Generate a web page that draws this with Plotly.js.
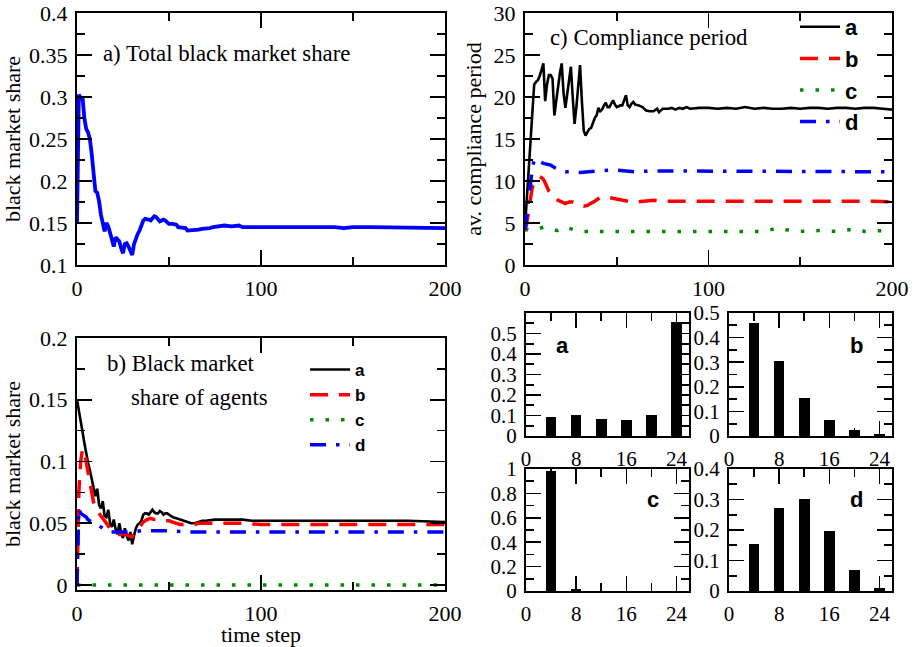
<!DOCTYPE html>
<html><head><meta charset="utf-8">
<script src="https://cdn.plot.ly/plotly-3.0.1.min.js"></script>
<style>html,body{margin:0;padding:0;background:#fff}#chart{width:915px;height:647px}</style>
</head><body><div id="chart"></div>
<script>
// ---------- data ----------
// a) total black market share
const tTotal = [0,1,2,3,4,5,6,7,8,9,10,11,12,13,14,15,16,17,18,19,20,21,22,23,24,25,26,27,28,29,30,31,32,33,34,35,36,37,38,39,40,41,42,43,44,45,46,47,48,49,50,52,54,55,57,59,60,62,64,66,68,70,72,74,76,78,80,84,88,90,95,100,105,110,115,120,125,130,140,145,150,160,170,180,190,195,200];
const shareTotal = [0.150,0.303,0.298,0.300,0.275,0.262,0.258,0.250,0.232,0.212,0.188,0.186,0.176,0.160,0.148,0.140,0.150,0.146,0.138,0.130,0.122,0.133,0.131,0.128,0.120,0.114,0.125,0.126,0.122,0.117,0.112,0.125,0.132,0.137,0.141,0.146,0.153,0.155,0.155,0.154,0.153,0.156,0.158,0.157,0.155,0.152,0.153,0.154,0.153,0.151,0.149,0.149,0.148,0.145,0.144,0.144,0.141,0.141,0.141,0.142,0.143,0.143,0.144,0.145,0.146,0.146,0.147,0.146,0.147,0.145,0.145,0.145,0.145,0.145,0.146,0.146,0.145,0.145,0.145,0.144,0.145,0.145,0.145,0.145,0.144,0.144,0.144];

// b) black market share of agents
const tShareA = [0,1,2,3,4,5,6,7,8,9,10,11,12,13,14,15,16,17,18,19,20,21,22,23,24,25,26,27,28,29,30,31,32,33,34,35,36,37,38,39,40,41,42,43,44,45,46,47,48,49,50,52,54,56,58,60,62,64,66,68,70,75,80,85,90,95,100,120,140,160,180,200];
const shareA = [0.150,0.140,0.131,0.124,0.115,0.106,0.099,0.093,0.086,0.080,0.072,0.078,0.065,0.062,0.068,0.056,0.055,0.061,0.050,0.047,0.053,0.045,0.041,0.050,0.042,0.038,0.046,0.040,0.036,0.043,0.033,0.040,0.046,0.049,0.050,0.052,0.057,0.058,0.058,0.057,0.059,0.061,0.059,0.058,0.058,0.060,0.059,0.057,0.058,0.058,0.057,0.055,0.054,0.053,0.052,0.051,0.050,0.050,0.051,0.052,0.052,0.053,0.053,0.053,0.053,0.052,0.052,0.052,0.052,0.052,0.052,0.051];
const tShareB = [0,1,2,3,4,5,6,7,8,9,10,12,14,16,18,20,22,24,26,28,30,32,34,36,38,40,42,44,46,48,50,52,54,56,58,60,62,64,66,70,80,90,100,120,140,160,180,200];
const shareB = [0.000,0.075,0.100,0.110,0.108,0.100,0.090,0.082,0.074,0.067,0.062,0.058,0.053,0.049,0.046,0.043,0.041,0.041,0.042,0.040,0.039,0.043,0.047,0.051,0.053,0.054,0.053,0.053,0.053,0.052,0.052,0.051,0.050,0.049,0.049,0.049,0.049,0.049,0.050,0.050,0.050,0.050,0.049,0.049,0.049,0.049,0.049,0.049];
const tShareC = [0,50,100,150,200];
const shareC = [0,0,0,0,0];
const tShareD = [0,1,2,3,4,5,6,8,10,12,14,16,18,20,25,30,35,40,50,60,80,100,120,140,160,180,200];
const shareD = [0.000,0.062,0.058,0.057,0.056,0.055,0.053,0.051,0.050,0.048,0.046,0.044,0.043,0.043,0.043,0.043,0.044,0.044,0.044,0.043,0.043,0.043,0.043,0.043,0.043,0.043,0.043];

// c) average compliance period
const tCompA = [0,1,2,3,4,5,6,7,8,9,10,11,12,13,14,15,16,17,18,19,20,21,22,23,24,25,26,27,28,29,30,31,32,33,34,35,36,37,38,39,40,41,42,43,44,45,46,47,48,49,50,51,52,53,54,55,56,57,58,59,60,62,64,66,68,70,72,73,75,78,80,82,84,86,88,90,95,100,105,110,115,120,125,130,135,140,145,150,155,160,165,170,175,180,185,190,195,200];
const compA = [4.5,8,12,15.5,19,21.5,21.8,22.0,22.5,23.2,24.0,19.5,21.5,22.6,22.6,22.2,17.8,19.5,21.5,22.8,24.0,20.5,18.7,20.5,22.0,23.6,20.0,16.8,18.8,21.0,23.8,19.5,16.0,15.4,15.8,16.2,16.3,17.0,17.5,17.8,18.7,18.3,18.5,19.0,19.3,18.8,18.8,19.2,19.6,19.1,18.8,18.9,19.0,19.0,19.6,20.2,19.0,18.8,19.2,19.4,19.1,19.0,18.8,18.4,18.3,18.3,18.6,18.2,18.6,18.6,18.7,18.5,18.7,18.6,18.8,18.6,18.7,18.7,18.6,18.7,18.6,18.8,18.6,18.7,18.6,18.6,18.7,18.6,18.7,18.7,18.6,18.7,18.7,18.6,18.7,18.7,18.6,18.5];
const tCompB = [0,1,2,3,4,5,6,7,8,9,10,11,12,13,14,15,16,17,18,19,20,22,24,26,28,30,32,34,36,38,40,42,44,46,48,50,52,54,56,58,60,65,70,75,80,90,100,110,120,130,140,150,160,170,180,190,200];
const compB = [4.0,5,6.5,8,9.3,9.5,9.8,10.3,10.5,10.4,10.2,9.8,9.2,8.8,8.5,8.2,8.0,7.8,7.7,7.6,7.5,7.3,7.5,7.5,7.3,7.1,7.0,7.1,7.3,7.6,7.9,8.1,8.1,8.0,7.9,7.8,7.8,7.7,7.5,7.5,7.5,7.6,7.7,7.6,7.6,7.6,7.6,7.6,7.6,7.6,7.6,7.6,7.7,7.6,7.6,7.6,7.5];
const tCompC = [0,3,6,10,14,18,22,26,30,40,50,60,70,80,90,100,110,120,130,138,142,150,160,170,180,185,190,195,200];
const compC = [4.3,4.1,4.2,4.5,4.2,4.1,4.5,4.2,4.0,4.0,4.0,4.1,4.0,4.0,4.0,4.0,4.1,4.0,4.0,4.4,4.2,4.0,4.1,4.0,4.3,4.0,4.0,4.1,4.2];
const tCompD = [0,1,2,3,4,5,6,7,8,10,12,14,16,18,20,22,24,26,28,30,34,38,42,46,50,55,60,70,80,90,100,110,120,130,140,150,160,170,180,190,200];
const compD = [4.2,6,8,10,11.5,12.5,12.6,12.3,12.3,12.1,12.0,11.9,11.6,11.4,11.2,11.1,11.1,11.0,11.0,11.0,11.1,11.2,11.2,11.3,11.3,11.2,11.1,11.2,11.2,11.1,11.2,11.2,11.2,11.1,11.2,11.2,11.1,11.2,11.1,11.2,11.1];

// histograms of compliance period
const histBins = [4,8,12,16,20,24];
const histA = [0.092,0.102,0.082,0.077,0.102,0.557];
const histB = [0.458,0.306,0.153,0.064,0.025,0.007];
const histC = [0.98,0.014,0,0,0,0];
const histD = [0.153,0.273,0.303,0.197,0.070,0.011];

const seriesNames = ['a','b','c','d'];
const timeTicks = [0,100,200];
const histXTicks = [0,8,16,24];

// ---------- styles ----------
const W = 915, H = 647;
const dx = (l, r) => [l / W, r / W];
const dy = (t, b) => [1 - b / H, 1 - t / H];
const serif = 'Liberation Serif';
const sans = 'Liberation Sans';
const colA = 'black', colB = 'rgb(255,0,0)', colC = 'rgb(0,140,0)', colD = 'rgb(0,0,255)';
const lineStyles = [
  {color: colA, width: 2.6, dash: 'solid'},
  {color: colB, width: 3.5, dash: '18px,11px'},
  {color: colC, width: 3.5, dash: '3.5px,12px'},
  {color: colD, width: 3.5, dash: '16px,10px,3.5px,10px'}
];
const tickFont = {family: serif, size: 22, color: 'black'};
const histTickFont = {family: serif, size: 21, color: 'black'};
const titleFont = {family: serif, size: 22, color: 'black'};

function axis(domain, range, dtick, minor, anchor, extra) {
  return Object.assign({
    domain: domain, range: range, dtick: dtick, tick0: 0, anchor: anchor,
    showline: true, linecolor: 'black', linewidth: 2, mirror: 'allticks',
    ticks: 'inside', ticklen: 15, tickwidth: 1.6, tickcolor: 'black',
    minor: {dtick: minor, ticklen: 8, tickwidth: 1.6, tickcolor: 'black', ticks: 'inside'},
    showgrid: false, zeroline: false,
    tickfont: tickFont,
    ticklabelstandoff: 3
  }, extra || {});
}

const traces = [];
traces.push({x: tTotal, y: shareTotal, xaxis: 'x', yaxis: 'y', type: 'scatter', mode: 'lines',
  line: {color: colD, width: 3.8}, showlegend: false});

const compT = [tCompA, tCompB, tCompC, tCompD];
const compV = [compA, compB, compC, compD];
for (let i = 0; i < 4; i++) {
  traces.push({x: compT[i], y: compV[i], xaxis: 'x2', yaxis: 'y2', type: 'scatter', mode: 'lines',
    name: seriesNames[i], line: lineStyles[i], legend: 'legend', showlegend: true});
}
const shT = [tShareA, tShareB, tShareC, tShareD];
const shV = [shareA, shareB, shareC, shareD];
for (let i = 0; i < 4; i++) {
  traces.push({x: shT[i], y: shV[i], xaxis: 'x3', yaxis: 'y3', type: 'scatter', mode: 'lines',
    name: seriesNames[i], line: lineStyles[i], legend: 'legend2', showlegend: true});
}
const hists = [histA, histB, histC, histD];
for (let i = 0; i < 4; i++) {
  traces.push({x: histBins, y: hists[i], xaxis: 'x' + (4 + i), yaxis: 'y' + (4 + i), type: 'bar',
    width: 1.7, marker: {color: 'black', line: {width: 0}}, showlegend: false});
}

const annFont = {family: serif, size: 22.8, color: 'black'};
const lblFont = {family: sans, size: 22, color: 'black', weight: 'bold'};
function ann(text, xp, yp, font, xanchor) {
  return {text: text, x: xp / W, y: 1 - yp / H, xref: 'paper', yref: 'paper', showarrow: false,
    xanchor: xanchor || 'left', yanchor: 'middle', font: font};
}

const timeAxisTicks = {tickvals: timeTicks, tickmode: 'array'};
const histXTickSet = {tickmode: 'array', tickvals: histXTicks, tickfont: histTickFont};
const histY = {tickfont: histTickFont};

const layout = {
  width: W, height: H, margin: {l: 0, r: 0, t: 0, b: 0},
  font: {family: serif, size: 22, color: 'black'},
  paper_bgcolor: 'white', plot_bgcolor: 'white',
  bargap: 0,
  xaxis: axis(dx(77, 445), [0, 200], 100, 50, 'y', timeAxisTicks),
  yaxis: axis(dy(13, 265), [0.1, 0.4], 0.05, 0.025, 'x',
    {title: {text: 'black market share', font: titleFont, standoff: 4}}),
  xaxis2: axis(dx(525, 892), [0, 200], 100, 50, 'y2', timeAxisTicks),
  yaxis2: axis(dy(13, 265), [0, 30], 5, 2.5, 'x2',
    {title: {text: 'av. compliance period', font: titleFont, standoff: 6}}),
  xaxis3: axis(dx(77, 445), [0, 200], 100, 50, 'y3',
    Object.assign({title: {text: 'time step', font: titleFont, standoff: 6}}, timeAxisTicks)),
  yaxis3: axis(dy(338, 590), [-0.004, 0.2], 0.05, 0.025, 'x3',
    {tick0: 0, title: {text: 'black market share', font: titleFont, standoff: 4}}),
  xaxis4: axis(dx(526, 689), [0, 26], 8, 4, 'y4', histXTickSet),
  yaxis4: axis(dy(313, 436), [0, 0.6], 0.1, 0.05, 'x4', {tickmode: 'array', tickvals: [0,0.1,0.2,0.3,0.4,0.5], tickfont: histTickFont}),
  xaxis5: axis(dx(729, 892), [0, 26], 8, 4, 'y5', histXTickSet),
  yaxis5: axis(dy(313, 436), [0, 0.5], 0.1, 0.05, 'x5', histY),
  xaxis6: axis(dx(526, 689), [0, 26], 8, 4, 'y6', histXTickSet),
  yaxis6: axis(dy(469, 591), [0, 1], 0.2, 0.1, 'x6', histY),
  xaxis7: axis(dx(729, 892), [0, 26], 8, 4, 'y7', histXTickSet),
  yaxis7: axis(dy(469, 591), [0, 0.4], 0.1, 0.05, 'x7', histY),
  legend: {x: 795 / W, y: 1 - 6 / H, xanchor: 'left', yanchor: 'top', bgcolor: 'rgba(0,0,0,0)',
    font: {family: sans, size: 22, color: 'black', weight: 'bold'}, itemwidth: 40, tracegroupgap: 0},
  legend2: {x: 305 / W, y: 1 - 352 / H, xanchor: 'left', yanchor: 'top', bgcolor: 'rgba(0,0,0,0)',
    font: {family: sans, size: 17, color: 'black', weight: 'bold'}, itemwidth: 40, tracegroupgap: 0},
  annotations: [
    ann('a) Total black market share', 101, 53, annFont),
    ann('c) Compliance period', 548, 37, annFont),
    ann('b) Black market', 105, 363, annFont),
    ann('share of agents', 129, 398, annFont),
    ann('a', 562, 345, lblFont, 'center'),
    ann('b', 856, 345, lblFont, 'center'),
    ann('c', 653, 499, lblFont, 'center'),
    ann('d', 856, 499, lblFont, 'center')
  ]
};

Plotly.newPlot('chart', traces, layout, {staticPlot: true, displayModeBar: false});
</script></body></html>
